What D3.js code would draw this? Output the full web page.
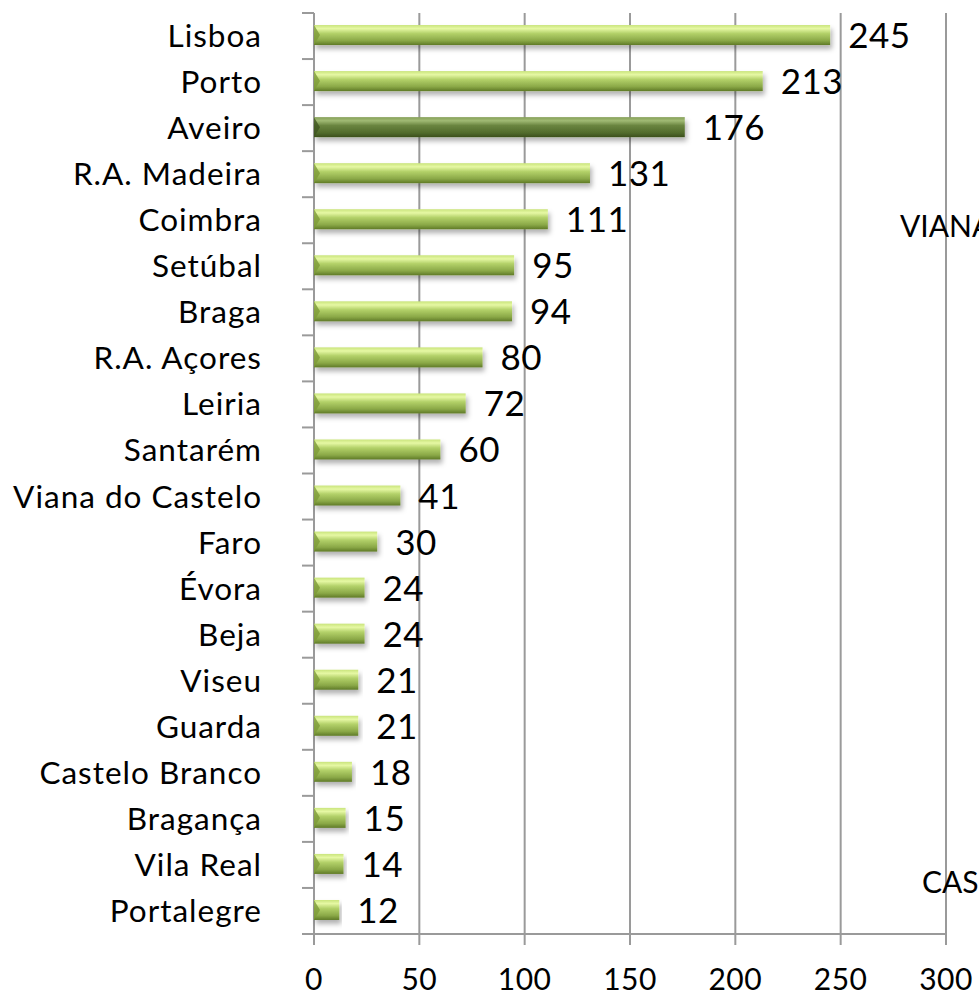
<!DOCTYPE html>
<html>
<head>
<meta charset="utf-8">
<script src="https://cdnjs.cloudflare.com/ajax/libs/d3/7.8.5/d3.min.js"></script>
<style>
  body { margin: 0; background: #fff; overflow: hidden; }
  text { font-family: Lato, "Open Sans", sans-serif; fill: #000; }
</style>
</head>
<body>
<svg width="979" height="996"></svg>
<script>
// distritos e valores
var districts = ["Lisboa", "Porto", "Aveiro", "R.A. Madeira", "Coimbra", "Setúbal", "Braga",
  "R.A. Açores", "Leiria", "Santarém", "Viana do Castelo", "Faro", "Évora", "Beja", "Viseu",
  "Guarda", "Castelo Branco", "Bragança", "Vila Real", "Portalegre"];
var values = [245, 213, 176, 131, 111, 95, 94, 80, 72, 60, 41, 30, 24, 24, 21, 21, 18, 15, 14, 12];
var highlight = ["Aveiro"];
var xTicks = [0, 50, 100, 150, 200, 250, 300];
// restos de etiquetas de outro grafico, cortados na margem
var strayLabels = [{ text: "VIANA", x: 900, y: 237 }, { text: "CAS", x: 922, y: 893 }];

var svg = d3.select("svg");
// note: "top" is taken by window.top, so plot edges get their own names
var plotL = 314, plotR = 946, plotT = 13, plotB = 934;

var data = districts.map(function(d, i) { return { name: d, value: values[i] }; });

var x = d3.scaleLinear().domain([0, 300]).range([plotL, plotR]);
var yb = d3.scaleBand().domain(districts).range([plotT, plotB]).padding(0);
var barH = 20;

var defs = svg.append("defs");
function grad(id, stops) {
  var g = defs.append("linearGradient").attr("id", id)
      .attr("x1", 0).attr("y1", 0).attr("x2", 0).attr("y2", 1);
  stops.forEach(function(s) {
    g.append("stop").attr("offset", s[0]).attr("stop-color", s[1]);
  });
}
grad("gLight", [[0, "#c9e47c"], [0.18, "#e6f8a4"], [0.42, "#b3d169"], [0.78, "#8aa847"], [1, "#5f7a27"]]);
grad("gDark", [[0, "#86a05a"], [0.18, "#a0ba74"], [0.42, "#6a8540"], [0.78, "#526c2c"], [1, "#3b4f1c"]]);
var f = defs.append("filter").attr("id", "shadow").attr("x", "-5%").attr("y", "-30%")
    .attr("width", "115%").attr("height", "190%");
f.append("feDropShadow").attr("dx", 2).attr("dy", 4).attr("stdDeviation", 2.5)
    .attr("flood-color", "#000").attr("flood-opacity", 0.3);

// gridlines + bottom ticks
svg.append("g").selectAll("line")
  .data(xTicks.slice(1))
  .enter().append("line")
    .attr("x1", function(d) { return x(d); })
    .attr("x2", function(d) { return x(d); })
    .attr("y1", plotT).attr("y2", plotB + 11)
    .attr("stroke", "#9a9a9a").attr("stroke-width", 2);

// left axis with ticks at band boundaries
var bounds = districts.map(function(d) { return yb(d); }).concat([plotB]);
svg.append("g").selectAll("line")
  .data(bounds)
  .enter().append("line")
    .attr("x1", plotL - 12).attr("x2", plotL)
    .attr("y1", function(d) { return d; })
    .attr("y2", function(d) { return d; })
    .attr("stroke", "#9a9a9a").attr("stroke-width", 2);
svg.append("line")
    .attr("x1", plotL).attr("x2", plotL).attr("y1", plotT).attr("y2", plotB + 11)
    .attr("stroke", "#9a9a9a").attr("stroke-width", 2);
svg.append("line")
    .attr("x1", plotL - 12).attr("x2", plotR).attr("y1", plotB).attr("y2", plotB)
    .attr("stroke", "#9a9a9a").attr("stroke-width", 2);

// bars
var bar = svg.append("g").selectAll("g")
  .data(data)
  .enter().append("g")
    .attr("transform", function(d) {
      return "translate(" + x(0) + "," + (yb(d.name) + (yb.bandwidth() - barH) / 2 - 1) + ")";
    });

bar.append("rect")
    .attr("width", function(d) { return x(d.value) - x(0); })
    .attr("height", barH)
    .attr("filter", "url(#shadow)")
    .attr("fill", function(d) { return highlight.indexOf(d.name) >= 0 ? "url(#gDark)" : "url(#gLight)"; });

// little bevel on the left end
bar.append("path")
    .attr("d", "M0,0 L6," + (barH / 2) + " L0," + barH + "Z")
    .attr("fill", function(d) { return highlight.indexOf(d.name) >= 0 ? "#3f5520" : "#7d9a38"; })
    .attr("opacity", 0.8);

bar.append("text")
    .attr("x", function(d) { return x(d.value) - x(0) + 18; })
    .attr("y", barH / 2 + 13)
    .attr("font-size", 35)
    .attr("letter-spacing", 0.5)
    .text(function(d) { return d.value; });

// category labels
svg.append("g").selectAll("text")
  .data(districts)
  .enter().append("text")
    .attr("x", 262)
    .attr("y", function(d) { return yb(d) + yb.bandwidth() / 2 + 11; })
    .attr("text-anchor", "end")
    .attr("font-size", 31.5)
    .attr("letter-spacing", 1)
    .text(function(d) { return d; });

// x tick labels
svg.append("g").selectAll("text")
  .data(xTicks)
  .enter().append("text")
    .attr("x", function(d) { return x(d); })
    .attr("y", 990)
    .attr("text-anchor", "middle")
    .attr("font-size", 30)
    .attr("letter-spacing", 0.5)
    .text(function(d) { return d; });

svg.append("g").selectAll("text")
  .data(strayLabels)
  .enter().append("text")
    .attr("x", function(d) { return d.x; })
    .attr("y", function(d) { return d.y; })
    .attr("font-size", 30)
    .text(function(d) { return d.text; });
</script>
</body>
</html>
